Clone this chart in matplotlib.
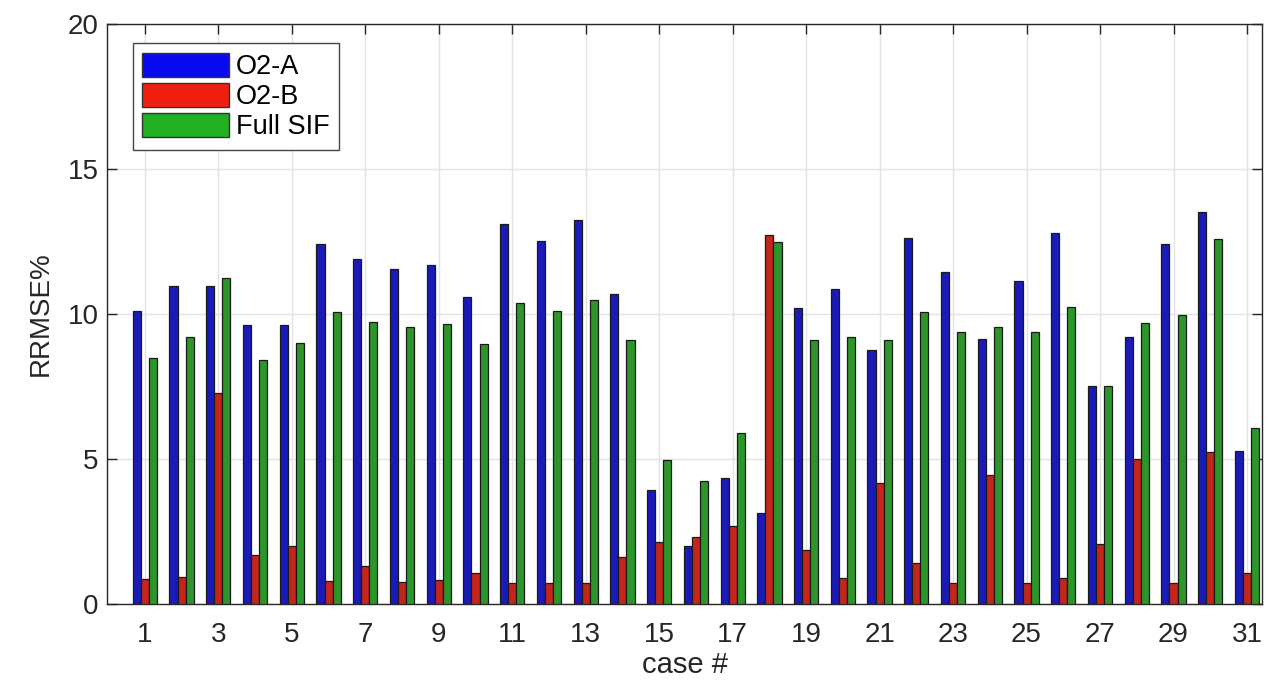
import numpy as np
import matplotlib
matplotlib.use("Agg")
import matplotlib.pyplot as plt
from matplotlib.patches import Patch

plt.rcParams['font.family'] = ['Liberation Sans', 'DejaVu Sans']

cases = list(range(1, 32))
o2a = [10.1, 10.97, 10.97, 9.62, 9.62, 12.4, 11.89, 11.55, 11.69, 10.6,
       13.09, 12.53, 13.24, 10.69, 3.93, 2.01, 4.33, 3.13, 10.2, 10.85,
       8.76, 12.61, 11.46, 9.13, 11.14, 12.8, 7.53, 9.2, 12.4, 13.53, 5.28]
o2b = [0.85, 0.94, 7.29, 1.69, 2.01, 0.79, 1.31, 0.75, 0.83, 1.08,
       0.74, 0.74, 0.74, 1.61, 2.15, 2.32, 2.69, 12.72, 1.86, 0.89,
       4.18, 1.4, 0.74, 4.45, 0.74, 0.91, 2.06, 4.99, 0.71, 5.25, 1.06]
full_sif = [8.5, 9.2, 11.23, 8.41, 8.99, 10.08, 9.74, 9.56, 9.66, 8.97,
            10.39, 10.1, 10.48, 9.1, 4.97, 4.25, 5.91, 12.49, 9.1, 9.22,
            9.1, 10.08, 9.39, 9.56, 9.39, 10.23, 7.53, 9.68, 9.97, 12.58, 6.06]
names = ['O2-A', 'O2-B', 'Full SIF']

fig = plt.figure(figsize=(12.68, 6.86), dpi=100)
ax = fig.add_axes([0.0844, 0.1195, 0.9109, 0.8455])

x = np.array(cases)
w = 0.22
bar_cols = ['#1a1ab8', '#c4261c', '#2c962a']
leg_cols = ['#0a0af0', '#f02010', '#22b022']
for k, vals in enumerate([o2a, o2b, full_sif]):
    ax.bar(x + (k - 1) * w, vals, width=w, color=bar_cols[k],
           edgecolor='#1a1a1a', linewidth=0.9, zorder=3)

ax.set_xlim(-0.03, 31.41)
ax.set_ylim(0, 20)
ax.set_xticks(range(1, 32, 2))
ax.set_yticks([0, 5, 10, 15, 20])
ax.grid(True, color='#e3e3e3', linewidth=1.0, zorder=0)
ax.tick_params(direction='in', length=7, width=1, top=True, right=True,
               colors='#262626')
ax.tick_params(axis='x', labelsize=20, pad=13)
ax.tick_params(axis='y', labelsize=20, pad=6)
for s in ax.spines.values():
    s.set_color('#262626')
    s.set_linewidth(1.0)

ax.set_xlabel('case #', fontsize=21, color='#262626', labelpad=2)
ax.set_ylabel('RRMSE%', fontsize=20, color='#262626', labelpad=10)

handles = [Patch(facecolor=c, edgecolor='#333333', label=n)
           for c, n in zip(leg_cols, names)]
leg = ax.legend(handles=handles, loc='upper left',
                bbox_to_anchor=(0.0225, 0.967), borderaxespad=0,
                fontsize=19.5, fancybox=False, framealpha=1,
                edgecolor='#444444', handlelength=3.2, handleheight=1.0,
                handletextpad=0.25, labelspacing=0.1, borderpad=0.35)
leg.get_frame().set_linewidth(1.0)

fig.savefig('out.png', dpi=100)
